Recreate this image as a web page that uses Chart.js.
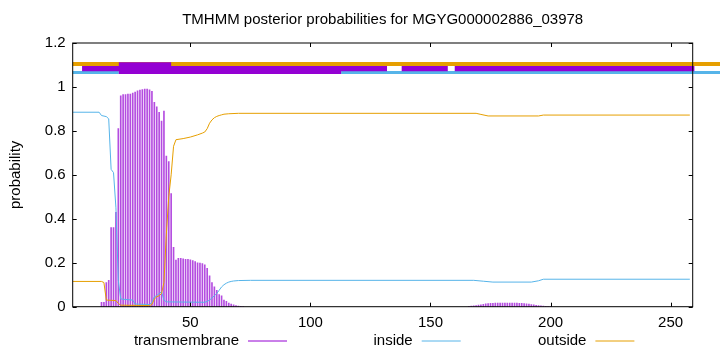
<!DOCTYPE html>
<html>
<head>
<meta charset="utf-8">
<script src="https://cdn.jsdelivr.net/npm/chart.js@4.4.0/dist/chart.umd.min.js"></script>
<style>
  html, body { margin: 0; padding: 0; background: #fff; }
  #chart { display: block; }
</style>
</head>
<body>
<canvas id="chart" width="720" height="352"></canvas>
<script>
const titleText = 'TMHMM posterior probabilities for MGYG000002886_03978';
const yAxisTitle = 'probability';
const seriesNames = ['transmembrane', 'inside', 'outside'];
const seriesColors = ['#9400D3', '#56B4E9', '#E69F00'];

const xTicks = [50, 100, 150, 200, 250];
const yTicks = [0, 0.2, 0.4, 0.6, 0.8, 1, 1.2];

// transmembrane posterior, one impulse per residue (zeros left out)
const tmResidues = [
  13, 14, 15, 16, 17, 18, 19, 20, 21, 22, 23, 24, 25, 26, 27, 28, 29, 30,
  31, 32, 33, 34, 35, 36, 37, 38, 39, 40, 41, 42, 43, 44, 45, 46, 47, 48,
  49, 50, 51, 52, 53, 54, 55, 56, 57, 58, 59, 60, 61, 62, 63, 64, 65, 66,
  67, 68, 69, 70, 71, 72,
  166, 167, 168, 169, 170, 171, 172, 173, 174, 175, 176, 177, 178, 179, 180,
  181, 182, 183, 184, 185, 186, 187, 188, 189, 190, 191, 192, 193, 194, 195,
  196, 197, 198, 199, 200
];
const tmProb = [
  0.02, 0.02, 0.11, 0.12, 0.36, 0.36, 0.43, 0.81, 0.96, 0.965, 0.965, 0.967, 0.967, 0.972, 0.977, 0.982, 0.986, 0.988,
  0.99, 0.99, 0.987, 0.98, 0.93, 0.91, 0.885, 0.845, 0.89, 0.685, 0.66, 0.515, 0.27, 0.212, 0.22, 0.22, 0.218, 0.216,
  0.215, 0.213, 0.21, 0.205, 0.2, 0.198, 0.196, 0.19, 0.175, 0.14, 0.11, 0.09, 0.075, 0.055, 0.05, 0.03, 0.024, 0.017,
  0.012, 0.008, 0.005, 0.003, 0.002, 0.001,
  0.002, 0.003, 0.004, 0.005, 0.007, 0.009, 0.011, 0.013, 0.014, 0.015, 0.015, 0.016, 0.016, 0.016, 0.016,
  0.016, 0.016, 0.016, 0.016, 0.016, 0.016, 0.015, 0.015, 0.014, 0.013, 0.012, 0.01, 0.008, 0.006, 0.005,
  0.004, 0.003, 0.002, 0.001, 0.001
];

// inside / outside posteriors (points where the curve changes)
const insideX = [1, 12, 13, 15, 16, 17, 18, 19, 20, 21, 26, 27, 33, 34, 35, 36, 37, 38, 39, 40, 56, 57, 58, 59, 60,
  61, 62, 63, 64, 65, 66, 67, 68, 70, 75, 168, 172, 176, 192, 195, 197, 258];
const insideY = [0.885, 0.885, 0.87, 0.865, 0.855, 0.625, 0.61, 0.45, 0.12, 0.035, 0.03, 0.012, 0.01, 0.02, 0.045, 0.05,
  0.06, 0.068, 0.03, 0.022, 0.02, 0.024, 0.03, 0.04, 0.05, 0.06, 0.075, 0.09, 0.1, 0.107, 0.112, 0.115, 0.117, 0.119,
  0.12, 0.12, 0.116, 0.112, 0.112, 0.118, 0.125, 0.125];

const outsideX = [1, 13, 14, 15, 19, 20, 21, 33, 34, 35, 36, 37, 38, 39, 40, 41, 42, 43, 44, 47, 50, 53, 55, 56, 57,
  58, 59, 60, 61, 62, 63, 64, 66, 70, 169, 171, 174, 195, 197, 258];
const outsideY = [0.115, 0.115, 0.11, 0.03, 0.028, 0.015, 0.007, 0.005, 0.01, 0.035, 0.045, 0.05, 0.06, 0.11, 0.33,
  0.5, 0.6, 0.73, 0.76, 0.765, 0.772, 0.782, 0.79, 0.795, 0.81, 0.835, 0.85, 0.86, 0.866, 0.87, 0.873, 0.876, 0.878,
  0.88, 0.88, 0.875, 0.868, 0.868, 0.872, 0.872];

// predicted topology bands above the plot: [start, end] residue spans
const outsideTrack = [[1, 271]];
const insideTrack = [[1, 20.2], [112.8, 271]];
const tmTrack = [[4.9, 131.9], [138, 157.2], [160.1, 259.9], [266.1, 271]];
const tmTrackLow = [[20.2, 112.8]];
const tmTrackHigh = [[20.2, 42]];

const FONT = "'Liberation Sans', Arial, sans-serif";

function trackData(spans, level) {
  const pts = [];
  spans.forEach(([a, b]) => {
    pts.push({ x: a, y: level }, { x: b, y: level }, { x: b, y: null });
  });
  return pts;
}

function trackSet(spans, level, color, width, order) {
  return {
    type: 'line',
    data: trackData(spans, level),
    borderColor: color,
    borderWidth: width,
    pointRadius: 0,
    spanGaps: false,
    clip: false,
    order: order
  };
}

const frameAndLabels = {
  id: 'frameAndLabels',
  afterDatasetsDraw(chart) {
    const { ctx, chartArea: a, scales } = chart;
    ctx.save();
    ctx.strokeStyle = '#000';
    ctx.lineWidth = 1;
    ctx.strokeRect(a.left, a.top, a.right - a.left, a.bottom - a.top);
    const tl = 4;
    ctx.beginPath();
    xTicks.forEach(v => {
      const px = Math.round(scales.x.getPixelForValue(v)) + 0.5;
      ctx.moveTo(px, a.bottom); ctx.lineTo(px, a.bottom - tl);
      ctx.moveTo(px, a.top); ctx.lineTo(px, a.top + tl);
    });
    yTicks.forEach(v => {
      const py = Math.round(scales.y.getPixelForValue(v)) + 0.5;
      ctx.moveTo(a.left, py); ctx.lineTo(a.left + tl, py);
      ctx.moveTo(a.right, py); ctx.lineTo(a.right - tl, py);
    });
    ctx.stroke();

    ctx.fillStyle = '#000';
    ctx.font = '15px ' + FONT;
    ctx.textAlign = 'center';
    ctx.textBaseline = 'middle';
    ctx.fillText(titleText, (a.left + a.right) / 2, 20);

    ctx.save();
    ctx.translate(16, (a.top + a.bottom) / 2);
    ctx.rotate(-Math.PI / 2);
    ctx.fillText(yAxisTitle, 0, 0);
    ctx.restore();

    // key: text then line sample, three columns
    const keyY = 341;
    ctx.textAlign = 'right';
    seriesNames.forEach((name, i) => {
      const right = 239 + i * 173.7;
      ctx.fillStyle = '#000';
      ctx.fillText(name, right, keyY);
      ctx.strokeStyle = seriesColors[i];
      ctx.beginPath();
      ctx.moveTo(right + 9, keyY);
      ctx.lineTo(right + 48, keyY);
      ctx.stroke();
    });
    ctx.restore();
  }
};

new Chart(document.getElementById('chart'), {
  type: 'bar',
  data: {
    datasets: [
      trackSet(tmTrackHigh, 1.103, seriesColors[0], 4, 0),
      trackSet(tmTrackLow, 1.0652, seriesColors[0], 3, 1),
      trackSet(tmTrack, 1.0834, seriesColors[0], 5.3, 2),
      trackSet(insideTrack, 1.0652, seriesColors[1], 3, 3),
      trackSet(outsideTrack, 1.104, seriesColors[2], 4, 4),
      {
        type: 'line',
        label: seriesNames[2],
        data: outsideX.map((x, i) => ({ x: x, y: outsideY[i] })),
        borderColor: seriesColors[2],
        borderWidth: 1,
        pointRadius: 0,
        order: 5
      },
      {
        type: 'line',
        label: seriesNames[1],
        data: insideX.map((x, i) => ({ x: x, y: insideY[i] })),
        borderColor: seriesColors[1],
        borderWidth: 1,
        pointRadius: 0,
        order: 6
      },
      {
        type: 'bar',
        label: seriesNames[0],
        data: tmResidues.map((x, i) => ({ x: x, y: tmProb[i] })),
        backgroundColor: 'rgba(148, 0, 211, 0.7)',
        barThickness: 1,
        grouped: false,
        order: 7
      }
    ]
  },
  options: {
    responsive: false,
    animation: false,
    devicePixelRatio: 1,
    layout: { padding: { top: 43, right: 27.3, left: 0, bottom: 0 } },
    plugins: { legend: { display: false }, tooltip: { enabled: false } },
    scales: {
      x: {
        type: 'linear',
        min: 1,
        max: 259.2,
        offset: false,
        grid: { display: false, drawTicks: false },
        border: { display: false },
        afterBuildTicks: s => { s.ticks = xTicks.map(v => ({ value: v })); },
        afterFit: s => { s.height = 45.3; },
        ticks: {
          autoSkip: false,
          maxRotation: 0,
          padding: 7,
          color: '#000',
          font: { family: FONT, size: 15 },
          callback: v => String(v)
        }
      },
      y: {
        type: 'linear',
        min: 0,
        max: 1.2,
        grid: { display: false, drawTicks: false },
        border: { display: false },
        afterBuildTicks: s => { s.ticks = yTicks.map(v => ({ value: v })); },
        afterFit: s => { s.width = 72.7; },
        ticks: {
          autoSkip: false,
          padding: 7,
          color: '#000',
          font: { family: FONT, size: 15 },
          callback: v => String(v)
        }
      }
    }
  },
  plugins: [frameAndLabels]
});
</script>
</body>
</html>
